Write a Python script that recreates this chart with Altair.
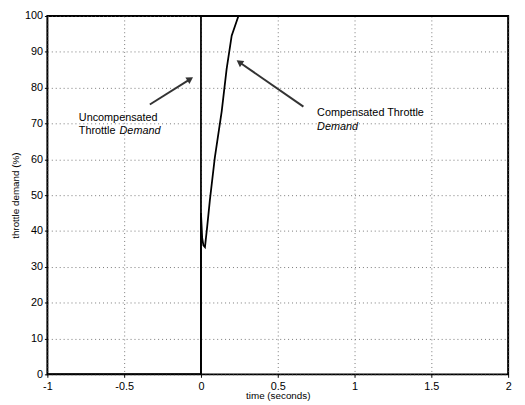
import altair as alt
import pandas as pd

# Data
uncomp_t = [-1.0, 0.0, 0.0, 2.0]
uncomp_y = [0, 0, 100, 100]
comp_t = [-1.0, 0.0, 0.0, 0.008, 0.016, 0.026, 0.04, 0.058, 0.09, 0.135, 0.167, 0.2, 0.244]
comp_y = [0, 0, 45, 38, 36, 35.5, 41, 48.6, 60.4, 73.4, 85.2, 94.5, 100]

arrow_start_x = [-0.333, 0.667]
arrow_start_y = [75.3, 74.7]
arrow_end_x = [-0.07, 0.25]
arrow_end_y = [82.4, 87.1]
arrow_angle = [57.6, 304.7]

label_x = [-0.795, -0.795, 0.756]
label_y = [71.4, 67.9, 72.8]
label_text = ["Uncompensated", "Throttle", "Compensated Throttle"]

italic_x = [-0.53, 0.756]
italic_y = [67.9, 69.0]
italic_text = ["Demand", "Demand"]

x_ticks = [-1, -0.5, 0, 0.5, 1, 1.5, 2]
y_ticks = [0, 10, 20, 30, 40, 50, 60, 70, 80, 90, 100]

rows = []
for i, (t, y) in enumerate(zip(uncomp_t, uncomp_y)):
    rows.append({"t": t, "y": y, "s": "Uncompensated", "o": i})
for i, (t, y) in enumerate(zip(comp_t, comp_y)):
    rows.append({"t": t, "y": y, "s": "Compensated", "o": i})
lines_df = pd.DataFrame(rows)

arrows_df = pd.DataFrame({"x": arrow_start_x, "y": arrow_start_y,
                          "x2": arrow_end_x, "y2": arrow_end_y, "a": arrow_angle})
labels_df = pd.DataFrame({"x": label_x, "y": label_y, "text": label_text})
italic_df = pd.DataFrame({"x": italic_x, "y": italic_y, "text": italic_text})

font = "Liberation Sans"
xs = alt.Scale(domain=[-1, 2], nice=False, zero=False)
ys = alt.Scale(domain=[0, 100], nice=False)

xax = alt.Axis(values=x_ticks, title="time (seconds)", grid=True, gridDash=[1, 3],
               gridColor="#555", gridOpacity=0.8, labelFontSize=11, labelFont=font,
               labelColor="black", titleFont=font, titleFontSize=10, titleFontWeight="normal",
               titleColor="black", domain=False, tickColor="black", tickSize=3,
               labelPadding=3, titlePadding=0, labelFlush=False, labelOverlap=False,
               labelExpr="replace(format(datum.value, '~g'), '\u2212', '-')")
yax = alt.Axis(values=y_ticks, title="throttle demand (%)", grid=True, gridDash=[1, 3],
               gridColor="#555", gridOpacity=0.8, labelFontSize=11, labelFont=font,
               labelColor="black", titleFont=font, titleFontSize=10, titleFontWeight="normal",
               titleColor="black", domain=False, tickColor="black", tickSize=3,
               labelPadding=2, titlePadding=4, labelFlush=False, labelOverlap=False,
               format="d")

def X(f):
    return alt.X(f, type="quantitative", scale=xs, axis=xax)

def Y(f):
    return alt.Y(f, type="quantitative", scale=ys, axis=yax)

lines = alt.Chart(lines_df).mark_line(color="black", strokeWidth=1.8, clip=True).encode(
    x=X("t"), y=Y("y"), detail="s:N", order="o:Q",
)

arrow_lines = alt.Chart(arrows_df).mark_rule(color="#333", strokeWidth=2).encode(
    x=X("x"), y=Y("y"), x2="x2:Q", y2="y2:Q"
)
arrow_heads = alt.Chart(arrows_df).mark_point(shape="triangle-up", filled=True,
                                               color="#333", size=60, opacity=1).encode(
    x=X("x2"), y=Y("y2"), angle=alt.Angle("a:Q", scale=None)
)

labels = alt.Chart(labels_df).mark_text(align="left", baseline="middle", fontSize=11,
                                         font=font, color="black").encode(
    x=X("x"), y=Y("y"), text="text:N"
)
italic_labels = alt.Chart(italic_df).mark_text(align="left", baseline="middle", fontSize=11,
                                                font=font, fontStyle="italic",
                                                color="black").encode(
    x=X("x"), y=Y("y"), text="text:N"
)

chart = (lines + arrow_lines + arrow_heads + labels + italic_labels).properties(
    width=468, height=364,
    background="white",
    autosize=alt.AutoSizeParams(type="none"),
    padding={"left": 40, "top": 5, "right": 9, "bottom": 28},
).configure_view(stroke="black", strokeWidth=2)

chart.save("out.html", embed_options={"renderer": "svg", "actions": False})
